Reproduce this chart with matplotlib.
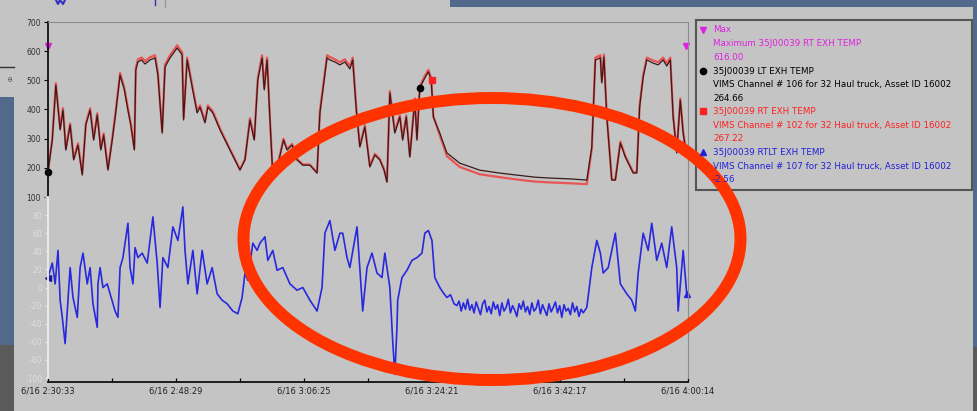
import matplotlib
matplotlib.use("Agg")
import matplotlib.pyplot as plt
from matplotlib.patches import Ellipse, Rectangle

# Time axis in minutes after 6/16 2:30:33
t_end = 89.68
tick_minutes = [0, 17.93, 35.87, 53.8, 71.74, 89.68]
tick_labels = ["6/16 2:30:33", "6/16 2:48:29", "6/16 3:06:25",
               "6/16 3:24:21", "6/16 3:42:17", "6/16 4:00:14"]

# Upper panel: LT / RT exhaust temperatures
t_upper = [0, 0.6, 1.1, 1.7, 2.1, 2.5, 3.1, 3.6, 4.2, 4.8,
           5.3, 5.9, 6.4, 6.9, 7.4, 7.8, 8.4, 9.0, 9.5, 10.1,
           10.7, 11.2, 11.6, 12.1, 12.3, 12.6, 13.1, 13.6, 14.3, 15.0,
           15.4, 16.0, 16.4, 17.1, 18.1, 18.8, 19.0, 19.5, 20.2, 20.9,
           21.3, 22.0, 22.4, 23.1, 24.1, 25.5, 26.9, 27.6, 28.3, 28.9,
           29.4, 30.0, 30.3, 30.7, 31.1, 31.5, 32.2, 33.0, 33.5, 34.2,
           34.9, 35.7, 36.7, 37.7, 38.1, 38.7, 39.1, 39.5, 40.2, 40.9,
           41.6, 42.3, 42.7, 43.2, 43.7, 44.4, 45.1, 45.8, 46.5, 47.1,
           47.5, 47.9, 48.6, 49.3, 49.7, 50.2, 50.7, 51.4, 51.7, 52.1,
           52.8, 53.3, 53.7, 54.0, 54.9, 55.9, 57.7, 60.5, 63.3, 65.7,
           68.2, 70.3, 73.2, 75.5, 76.2, 76.7, 77.4, 77.6, 77.9, 78.3,
           79.0, 79.5, 80.2, 80.9, 82.0, 82.5, 82.9, 83.4, 83.9, 84.8,
           85.5, 86.2, 86.7, 87.2, 87.6, 88.1, 88.6, 89.0, 89.5]
lt_temp = [185, 295, 484, 330, 398, 261, 347, 227, 278, 175,
           347, 398, 295, 381, 261, 312, 192, 295, 391, 518,
           467, 398, 347, 261, 535, 563, 570, 556, 570, 577,
           518, 319, 546, 577, 611, 587, 364, 570, 477, 388,
           408, 354, 408, 388, 330, 261, 192, 227, 364, 295,
           501, 577, 467, 570, 364, 175, 209, 295, 261, 278,
           227, 209, 209, 182, 388, 501, 577, 570, 563, 553,
           563, 539, 570, 398, 271, 340, 203, 244, 227, 192,
           151, 456, 319, 374, 295, 374, 237, 432, 295, 474,
           508, 529, 501, 374, 319, 251, 216, 192, 182, 175,
           168, 165, 162, 158, 271, 570, 577, 491, 580, 374,
           158, 158, 285, 237, 182, 182, 408, 511, 570, 559,
           553, 570, 549, 570, 374, 251, 432, 319, 237]
rt_temp = [190, 300, 490, 335, 405, 265, 352, 232, 284, 180,
           352, 404, 300, 387, 266, 318, 197, 300, 397, 525,
           474, 404, 352, 266, 542, 572, 578, 566, 579, 586,
           525, 324, 554, 586, 620, 596, 370, 578, 484, 394,
           414, 360, 414, 394, 335, 264, 195, 230, 370, 300,
           508, 586, 474, 578, 370, 178, 212, 300, 265, 282,
           230, 212, 211, 184, 394, 508, 586, 580, 572, 562,
           572, 548, 578, 404, 275, 346, 206, 248, 230, 194,
           153, 463, 325, 380, 300, 380, 240, 438, 300, 480,
           515, 536, 508, 376, 312, 240, 203, 178, 168, 160,
           153, 150, 147, 144, 265, 578, 586, 498, 588, 380,
           160, 160, 290, 240, 185, 186, 414, 518, 578, 568,
           562, 578, 558, 578, 380, 255, 438, 324, 240]

# Lower panel: RT - LT difference
t_lower = [0, 0.6, 1.0, 1.4, 1.7, 2.0, 2.4, 2.7, 3.1, 3.5,
           4.1, 4.5, 4.9, 5.5, 5.9, 6.3, 6.9, 7.0, 7.3, 7.7,
           8.3, 8.7, 9.4, 9.8, 10.1, 10.5, 11.2, 11.5, 11.9, 12.2,
           12.6, 13.2, 13.9, 14.7, 15.3, 15.7, 16.1, 16.8, 17.5, 18.2,
           18.9, 19.2, 19.6, 20.3, 20.9, 21.6, 22.3, 23.0, 23.7, 24.4,
           25.1, 25.9, 26.6, 27.2, 27.6, 28.0, 28.7, 29.3, 29.7, 30.4,
           30.8, 31.5, 32.1, 32.9, 33.9, 34.9, 35.7, 36.7, 37.7, 38.4,
           38.8, 39.5, 40.2, 40.9, 41.3, 41.9, 42.3, 43.3, 44.1, 44.7,
           45.4, 46.1, 46.8, 47.2, 47.9, 48.3, 48.6, 48.9, 49.0, 49.6,
           50.3, 51.0, 51.7, 52.4, 52.8, 53.3, 53.8, 54.2, 54.9, 55.4,
           55.9, 56.4, 56.9,
           57.3, 57.6, 57.9, 58.2, 58.5, 58.8, 59.1, 59.4, 59.7, 60.0,
           60.3, 60.6, 60.9, 61.2, 61.5, 61.8, 62.1, 62.4, 62.7, 63.0,
           63.3, 63.6, 63.9, 64.2, 64.5, 64.8, 65.1, 65.4, 65.7, 66.0,
           66.3, 66.6, 66.9, 67.2, 67.5, 67.8, 68.1, 68.4, 68.7, 69.0,
           69.3, 69.6, 69.9, 70.2, 70.5, 70.8, 71.1, 71.4, 71.7, 72.0,
           72.3, 72.6, 72.9, 73.2, 73.5, 73.8, 74.1, 74.4, 74.7, 75.0,
           75.5, 76.2, 76.9, 77.4, 77.8, 78.5, 79.5, 80.2,
           81.1, 81.8, 82.3, 82.7, 83.4, 84.1, 84.6, 85.3, 86.0, 86.7,
           87.4, 88.1, 88.3, 89.0, 89.5]
rtlt_diff = [11, 27, 4, 41, -14, -33, -62, -26, 22, -11,
             -33, 22, 38, 4, 22, -18, -44, 4, 22, 0,
             4, -7, -26, -33, 22, 33, 71, 22, 4, 44,
             33, 38, 27, 78, 27, -22, 33, 22, 67, 52,
             89, 41, 4, 41, -7, 41, 4, 22, -7, -14,
             -18, -26, -29, -11, 16, 8, 49, 41, 49, 56,
             30, 41, 19, 22, 4, -3, 0, -14, -26, 0,
             60, 74, 41, 60, 60, 33, 22, 67, -26, 22,
             38, 16, 11, 38, 0, -59, -96, -44, -14, 11,
             19, 30, 33, 38, 60, 63, 52, 11, 0, -6,
             -11, -8, -18,
             -20, -15, -26, -17, -24, -13, -25, -19, -28, -16,
             -23, -30, -18, -14, -27, -21, -29, -16, -24, -19,
             -31, -17, -26, -22, -13, -28, -20, -25, -32, -18,
             -24, -15, -27, -21, -30, -17, -26, -23, -14, -29,
             -19, -25, -31, -18, -27, -22, -16, -28, -20, -33,
             -19, -26, -23, -30, -17, -27, -21, -32, -24, -28,
             -22, 22, 52, 38, 16, 22, 60, 4,
             -7, -14, -26, 16, 60, 41, 71, 30, 49, 22,
             67, 22, -26, 41, -7]

max_value = 616.0

PANEL = "#c4c4c4"
SLIDE_BLUE = "#52698b"
SLIDE_DARK = "#5a5a5a"
FRAME = "#8c8c8c"

fig = plt.figure(figsize=(9.78, 4.11), dpi=100)
fig.patch.set_facecolor(PANEL)

# background pieces of the slide around the chart panel (pixel coords)
bg = fig.add_axes([0, 0, 1, 1], zorder=0)
bg.set_xlim(0, 978)
bg.set_ylim(411, 0)
bg.axis("off")
bg.add_patch(Rectangle((0, 97), 14, 248, color=SLIDE_BLUE, lw=0))
bg.add_patch(Rectangle((0, 345), 14, 66, color=SLIDE_DARK, lw=0))
bg.add_patch(Rectangle((450, 0), 528, 7, color=SLIDE_BLUE, lw=0))
bg.add_patch(Rectangle((973, 0), 5, 347, color=SLIDE_BLUE, lw=0))
bg.add_patch(Rectangle((973, 347), 5, 64, color=SLIDE_DARK, lw=0))
bg.plot([0, 14], [67, 67], color="#333333", lw=1)
bg.text(10, 80, "θ", fontsize=5, color="#444444", ha="center", va="center")
bg.plot([56, 58, 60, 63, 65], [0, 4, 0, 4, 0], color="#3030c0", lw=1.5)
bg.plot([155, 155], [0, 5], color="#3030c0", lw=1)
bg.plot([165, 165], [0, 7], color="#999999", lw=1)

# upper axes
ax_up = fig.add_axes([48 / 978, 1 - 197 / 411, 640 / 978, 175 / 411], zorder=1)
ax_up.set_facecolor("none")
ax_up.plot(t_upper, rt_temp, color="#f04040", lw=1.6, alpha=0.85)
ax_up.plot(t_upper, lt_temp, color="#3a1a1a", lw=0.9)
ax_up.plot([0, 89.4], [max_value, max_value], ls="none", marker="v",
           color="#e020e0", ms=5, clip_on=False)
ax_up.plot([0, 52.1], [lt_temp[0], 474], ls="none", marker="o",
           color="black", ms=4.5, clip_on=False)
ax_up.plot([53.8], [501], ls="none", marker="s", color="#ff2020", ms=4.5)
ax_up.set_xlim(0, t_end)
ax_up.set_ylim(100, 700)
ax_up.set_yticks([100, 200, 300, 400, 500, 600, 700])
ax_up.tick_params(axis="y", direction="out", length=3, width=0.8,
                  labelsize=5.5, labelcolor="#333333", pad=2)
ax_up.set_xticks([])
for s in ["top", "right"]:
    ax_up.spines[s].set_color(FRAME)
ax_up.spines["bottom"].set_visible(False)
ax_up.spines["left"].set_color("#111111")
ax_up.spines["left"].set_linewidth(1.3)

# lower axes
ax_lo = fig.add_axes([48 / 978, 1 - 378 / 411, 640 / 978, 181 / 411], zorder=1)
ax_lo.set_facecolor("none")
ax_lo.plot(t_lower, rtlt_diff, color="#2828e0", lw=1.2)
ax_lo.plot([0], [rtlt_diff[0]], ls="none", marker="<", color="#1a1a90", ms=4, clip_on=False)
ax_lo.plot([89.5], [rtlt_diff[-1]], ls="none", marker="^", color="#2525e0", ms=5, clip_on=False)
ax_lo.set_xlim(0, t_end)
ax_lo.set_ylim(-100, 100)
ax_lo.set_yticks(list(range(-100, 101, 20)))
ax_lo.set_yticklabels(["" if v == 100 else str(v) for v in range(-100, 101, 20)])
ax_lo.tick_params(axis="y", direction="out", length=2, color="#e8e8e8",
                  labelsize=5.5, labelcolor="#dedede", pad=2)
ax_lo.set_xticks(tick_minutes)
ax_lo.set_xticklabels(tick_labels)
ax_lo.set_xticks([8.97, 26.9, 44.84, 62.77, 80.71], minor=True)
ax_lo.tick_params(axis="x", which="both", direction="in", length=3, width=0.9,
                  labelsize=6, labelcolor="#222222", pad=3)
ax_lo.spines["bottom"].set_position(("outward", 3))
ax_lo.spines["bottom"].set_color("#111111")
ax_lo.spines["bottom"].set_linewidth(1.3)
ax_lo.spines["left"].set_color("#ececec")
ax_lo.spines["left"].set_linewidth(1.3)
ax_lo.spines["right"].set_color(FRAME)
ax_lo.spines["top"].set_visible(False)

# overlay: legend box and the red highlight ellipse (pixel coords)
ov = fig.add_axes([0, 0, 1, 1], zorder=5)
ov.set_xlim(0, 978)
ov.set_ylim(411, 0)
ov.axis("off")
ov.add_patch(Rectangle((696, 20), 276, 170, fill=False, ec="#555555", lw=1.5))
entries = [
    ("v", "#e020e0", ["Max", "Maximum 35J00039 RT EXH TEMP", "616.00"], 30),
    ("o", "black", ["35J00039 LT EXH TEMP",
                    "VIMS Channel # 106 for 32 Haul truck, Asset ID 16002", "264.66"], 71),
    ("s", "#ff2020", ["35J00039 RT EXH TEMP",
                      "VIMS Channel # 102 for 32 Haul truck, Asset ID 16002", "267.22"], 111),
    ("^", "#2020d8", ["35J00039 RTLT EXH TEMP",
                      "VIMS Channel # 107 for 32 Haul truck, Asset ID 16002", "-2.56"], 152),
]
for marker, col, lines, y0 in entries:
    ov.plot([703], [y0], marker=marker, color=col, ms=4.5)
    ov.text(713, y0, lines[0], fontsize=6.3, color=col, va="center")
    ov.text(713, y0 + 14, lines[1], fontsize=6.3, color=col, va="center")
    ov.text(713, y0 + 27, lines[2], fontsize=6.3, color=col, va="center")

ov.add_patch(Ellipse((492, 239), 497, 282, fill=False, ec="#ff3300", lw=8.6))

fig.savefig("out.png", dpi=100, facecolor=PANEL)
